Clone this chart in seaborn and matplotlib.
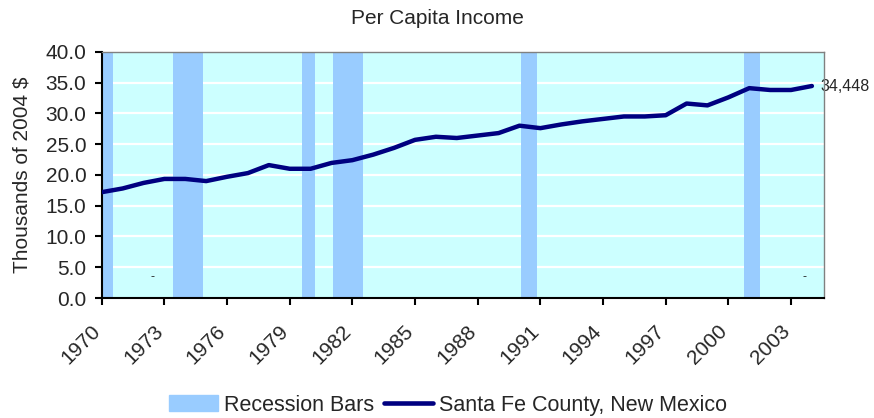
import numpy as np
import pandas as pd
import matplotlib
matplotlib.use("Agg")
import matplotlib.pyplot as plt
import matplotlib.patches as mpatches
import matplotlib.transforms as mtransforms
from matplotlib.lines import Line2D
import seaborn as sns

# Per capita income, Santa Fe County (thousands of 2004 $)
years = list(range(1970, 2005))
income = [17.2, 17.8, 18.7, 19.35, 19.35, 19.0, 19.7, 20.3, 21.6, 21.0,
          21.0, 21.95, 22.4, 23.3, 24.4, 25.7, 26.2, 26.0, 26.4, 26.8,
          28.0, 27.6, 28.2, 28.7, 29.1, 29.5, 29.5, 29.7, 31.6, 31.3,
          32.6, 34.1, 33.8, 33.8, 34.448]

# Recession periods as drawn on the chart (fractional years)
recession_start = [1969.9, 1973.41, 1979.59, 1981.07, 1990.07, 2000.76]
recession_end = [1970.54, 1974.85, 1980.21, 1982.49, 1990.83, 2001.51]

tick_years = list(range(1970, 2004, 3))
y_ticks = np.arange(0, 40.1, 5)

line_color = "#000080"
bar_color = "#99CCFF"
bg_color = "#CCFFFF"

sns.set_style("white")
plt.rcParams["font.family"] = ["Liberation Sans", "DejaVu Sans"]

df = pd.DataFrame({"year": years, "income": income})

fig = plt.figure(figsize=(8.74, 4.18), dpi=100)
ax = fig.add_axes([0.1164, 0.287, 0.8264, 0.589])
ax.set_facecolor(bg_color)

# horizontal white gridlines
for yv in y_ticks[1:-1]:
    ax.axhline(yv, color="white", linewidth=1.6, zorder=1)

# recession bars
for s, e in zip(recession_start, recession_end):
    ax.axvspan(s, e, color=bar_color, linewidth=0, zorder=1.5)

sns.lineplot(data=df, x="year", y="income", ax=ax, color=line_color,
             linewidth=3.2, zorder=3)

ax.set_xlim(1970, 2004.58)
ax.set_ylim(0, 40)
ax.set_xticks(tick_years)
ax.set_xticklabels([str(y) for y in tick_years], rotation=45, ha="right",
                   rotation_mode="anchor", fontsize=15)
ax.set_yticks(y_ticks)
ax.set_yticklabels([f"{v:.1f}" for v in y_ticks], fontsize=15)
ax.tick_params(axis="both", direction="out", length=5, width=1.5, color="black",
               bottom=True, left=True)
ax.tick_params(axis="x", pad=12)
ax.tick_params(axis="y", pad=6)
ax.set_xlabel("")
ax.set_ylabel("Thousands of 2004 $", fontsize=15, labelpad=10)

# nudge rotated year labels left, like the original
shift = mtransforms.ScaledTranslation(-11 / 100, 0, fig.dpi_scale_trans)
for lbl in ax.get_xticklabels():
    lbl.set_transform(lbl.get_transform() + shift)

for side in ["left", "bottom"]:
    ax.spines[side].set_color("black")
    ax.spines[side].set_linewidth(1.5)
for side in ["top", "right"]:
    ax.spines[side].set_color("#808080")
    ax.spines[side].set_linewidth(1.0)

# end label
ax.annotate("34,448", xy=(years[-1], income[-1]), xytext=(6, 0),
            textcoords="offset points", va="center", ha="left", fontsize=11.5,
            annotation_clip=False, zorder=2)

# stray dash labels
ax.text(1972.45, 3.4, "-", ha="center", va="center", fontsize=9)
ax.text(2003.65, 3.4, "-", ha="center", va="center", fontsize=9)

fig.text(0.5, 0.955, "Per Capita Income", ha="center", va="center", fontsize=15)

handles = [mpatches.Patch(color=bar_color, label="Recession Bars"),
           Line2D([0], [0], color=line_color, linewidth=3.3,
                  label="Santa Fe County, New Mexico")]
fig.legend(handles=handles, loc="center", bbox_to_anchor=(0.5126, 0.031), ncol=2,
           frameon=False, fontsize=15.5, handlelength=2.25, handletextpad=0.28,
           columnspacing=0.47)

fig.savefig("out.png", dpi=100)
